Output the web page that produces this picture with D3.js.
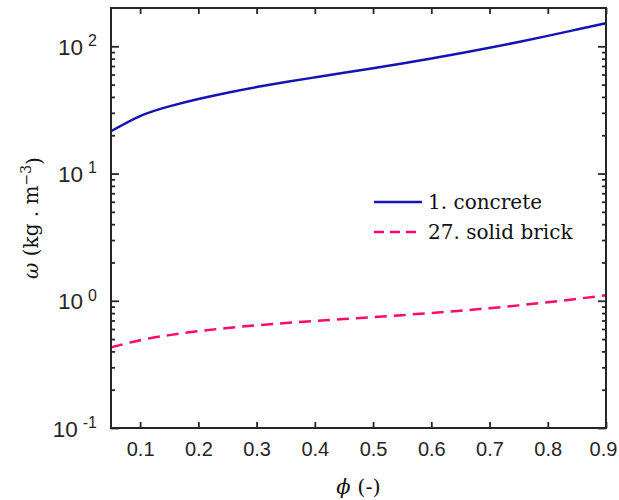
<!DOCTYPE html>
<html>
<head>
<meta charset="utf-8">
<script src="https://cdn.jsdelivr.net/npm/d3@7"></script>
<style>
  body { margin: 0; background: #fff; }
</style>
</head>
<body>
<svg id="viz" width="619" height="500"></svg>
<script>
const svg = d3.select("#viz");
const margin = { top: 8, right: 13, bottom: 72, left: 111 };
const width = +svg.attr("width");
const height = +svg.attr("height");

// values
const phi      = [0.05, 0.1, 0.15, 0.2, 0.25, 0.3, 0.35, 0.4, 0.45, 0.5, 0.55, 0.6, 0.65, 0.7, 0.75, 0.8, 0.85, 0.9];
const concrete = [21.5, 28.3, 33.7, 38.5, 43.2, 47.8, 52.4, 57.0, 61.9, 67.3, 73.3, 80.2, 88.1, 97.3, 108.1, 120.8, 135.5, 152];
const brick    = [0.430, 0.490, 0.537, 0.577, 0.611, 0.641, 0.668, 0.693, 0.718, 0.743, 0.771, 0.802, 0.836, 0.875, 0.920, 0.973, 1.035, 1.105];
const xTicks = [0.1, 0.2, 0.3, 0.4, 0.5, 0.6, 0.7, 0.8, 0.9];
const yTicks = [0.1, 1, 10, 100];
const yExps  = ["-1", "0", "1", "2"];
const seriesNames = ["1. concrete", "27. solid brick"];
const seriesColors = ["#1414b4", "#ff0a6c"];

const x = d3.scaleLinear().domain([0.05, 0.9]).range([margin.left, width - margin.right]);
const y = d3.scaleLog().domain([0.1, 200]).range([height - margin.bottom, margin.top]);

const minorTicks = [];
[0.1, 1, 10].forEach(d => { for (let k = 2; k <= 9; k++) minorTicks.push(d * k); });

const axisColor = "#262626";
const x0 = margin.left, x1 = width - margin.right, y0 = height - margin.bottom, y1 = margin.top;

function styleAxis(g) {
  g.select(".domain").remove();
  g.attr("font-size", null).attr("font-family", null);
  g.selectAll("line").attr("stroke", axisColor).attr("stroke-width", 1.8);
  g.selectAll("text")
    .attr("fill", axisColor)
    .style("font-family", "'Liberation Sans', Arial, sans-serif")
    .style("font-size", "20px");
}

// bottom / top
const bottom = svg.append("g").attr("transform", `translate(0,${y0})`)
  .call(d3.axisBottom(x).tickValues(xTicks).tickSizeInner(-6).tickSizeOuter(0).tickPadding(14).tickFormat(d3.format(".1f")))
  .call(styleAxis);
// last label sits on the page edge, nudge it in a bit
bottom.selectAll(".tick text").filter(d => d === 0.9).attr("dx", -3);
svg.append("g").attr("transform", `translate(0,${y1})`)
  .call(d3.axisTop(x).tickValues(xTicks).tickSizeInner(-6).tickSizeOuter(0).tickFormat(""))
  .call(styleAxis);

// left / right major
const left = svg.append("g").attr("transform", `translate(${x0},0)`)
  .call(d3.axisLeft(y).tickValues(yTicks).tickSizeInner(-8).tickSizeOuter(0).tickPadding(14).tickFormat(""))
  .call(styleAxis);
left.selectAll(".tick text").each(function(d, i) {
  const t = d3.select(this).attr("dy", "0.36em").style("font-size", "22.5px");
  t.append("tspan").text("10");
  t.append("tspan").attr("dx", 5).attr("dy", "-0.55em").style("font-size", "16px").text(yExps[i]);
});
svg.append("g").attr("transform", `translate(${x1},0)`)
  .call(d3.axisRight(y).tickValues(yTicks).tickSizeInner(-8).tickSizeOuter(0).tickFormat(""))
  .call(styleAxis);

// minor ticks
svg.append("g").attr("transform", `translate(${x0},0)`)
  .call(d3.axisLeft(y).tickValues(minorTicks).tickSizeInner(-4).tickSizeOuter(0).tickFormat(""))
  .call(styleAxis);
svg.append("g").attr("transform", `translate(${x1},0)`)
  .call(d3.axisRight(y).tickValues(minorTicks).tickSizeInner(-4).tickSizeOuter(0).tickFormat(""))
  .call(styleAxis);

// lines
const line = d3.line()
  .x(d => x(d[0]))
  .y(d => y(d[1]))
  .curve(d3.curveNatural);

svg.append("path")
  .datum(phi.map((p, i) => [p, concrete[i]]))
  .attr("fill", "none")
  .attr("stroke", seriesColors[0])
  .attr("stroke-width", 2.5)
  .attr("d", line);

svg.append("path")
  .datum(phi.map((p, i) => [p, brick[i]]))
  .attr("fill", "none")
  .attr("stroke", seriesColors[1])
  .attr("stroke-width", 2.5)
  .attr("stroke-dasharray", "12,7")
  .attr("d", line);

// frame
svg.append("rect")
  .attr("x", x0).attr("y", y1)
  .attr("width", x1 - x0).attr("height", y0 - y1)
  .attr("fill", "none")
  .attr("stroke", axisColor)
  .attr("stroke-width", 2);

// legend
const serif = "'DejaVu Serif', 'Liberation Serif', serif";
const legend = svg.append("g").attr("transform", "translate(374,202)");
seriesNames.forEach((name, i) => {
  const g = legend.append("g").attr("transform", `translate(0,${i * 30})`);
  g.append("line")
    .attr("x1", 0).attr("x2", 48)
    .attr("stroke", seriesColors[i])
    .attr("stroke-width", 2.5)
    .attr("stroke-dasharray", i === 1 ? "10,6" : null);
  g.append("text")
    .attr("x", 54)
    .attr("dy", "0.35em")
    .style("font-family", serif)
    .style("font-size", "20px")
    .attr("fill", "#111")
    .text(name);
});

// axis labels
svg.append("text")
  .attr("x", (x0 + x1) / 2)
  .attr("y", 494)
  .attr("text-anchor", "middle")
  .style("font-family", serif)
  .style("font-size", "21px")
  .attr("fill", "#111")
  .call(t => {
    t.append("tspan").style("font-style", "italic").text("ϕ");
    t.append("tspan").text(" (-)");
  });

svg.append("text")
  .attr("transform", `translate(38,${(y0 + y1) / 2}) rotate(-90)`)
  .attr("text-anchor", "middle")
  .style("font-family", serif)
  .style("font-size", "20px")
  .attr("fill", "#111")
  .call(t => {
    t.append("tspan").style("font-style", "italic").text("ω");
    t.append("tspan").text(" (kg . m");
    t.append("tspan").attr("dy", "-0.5em").style("font-size", "14px").text("−3");
    t.append("tspan").attr("dy", "0.5em").text(")");
  });
</script>
</body>
</html>
